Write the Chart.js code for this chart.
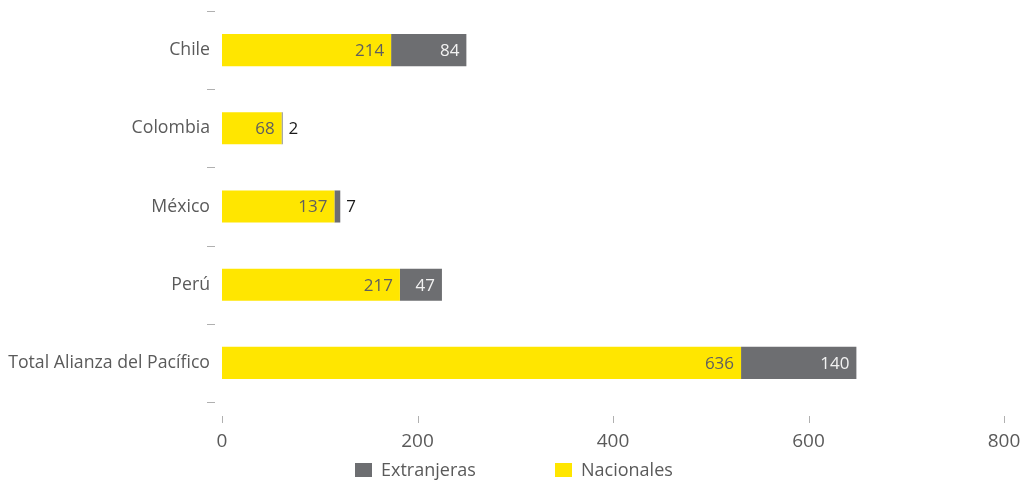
<!DOCTYPE html>
<html><head><meta charset="utf-8">
<script src="https://cdn.jsdelivr.net/npm/chart.js@4"></script>
<style>html,body{margin:0;padding:0;background:#fff}#wrap{width:1034px;height:484px;position:relative}</style>
</head><body><div id="wrap"><canvas id="c" width="1034" height="484"></canvas></div>
<script>
const categories = ['Chile', 'Colombia', 'México', 'Perú', 'Total Alianza del Pacífico'];
// bar lengths as drawn in the reference (against its 0–800 axis)
const nacionalesBars = [173, 61, 115, 182, 531];
const extranjerasBars = [77, 1, 6, 43, 118];
// values printed on the bars
const nacionalesLabels = [214, 68, 137, 217, 636];
const extranjerasLabels = [84, 2, 7, 47, 140];
const xTickValues = [0, 200, 400, 600, 800];
const seriesNames = ['Nacionales', 'Extranjeras'];

const YELLOW = '#FFE600';
const GREY = '#6D6E71';
const FONT = "'Open Sans', sans-serif";
const TEXT = '#5a5a5a';
const TICKMARK = '#b0b0b0';

const tickMarks = {
  id: 'tickMarks',
  afterDraw(chart) {
    const ctx = chart.ctx, ca = chart.chartArea;
    const ys = chart.scales.y, xs = chart.scales.x;
    ctx.save();
    ctx.strokeStyle = TICKMARK;
    ctx.lineWidth = 1;
    const n = ys.ticks.length;
    const step = n > 1 ? ys.getPixelForTick(1) - ys.getPixelForTick(0) : 0;
    for (let i = 0; i <= n; i++) {
      const y = Math.round(ys.getPixelForTick(0) - step / 2 + i * step) + 0.5;
      ctx.beginPath(); ctx.moveTo(ca.left - 15, y); ctx.lineTo(ca.left - 7, y); ctx.stroke();
    }
    xs.ticks.forEach(t => {
      const x = Math.round(xs.getPixelForValue(t.value)) + 0.5;
      ctx.beginPath(); ctx.moveTo(x, ca.bottom + 14); ctx.lineTo(x, ca.bottom + 21); ctx.stroke();
    });
    ctx.restore();
  }
};

const barLabels = {
  id: 'barLabels',
  afterDatasetsDraw(chart) {
    const ctx = chart.ctx;
    ctx.save();
    ctx.font = '17px ' + FONT;
    ctx.textBaseline = 'middle';
    chart.data.datasets.forEach((ds, di) => {
      const meta = chart.getDatasetMeta(di);
      meta.data.forEach((el, i) => {
        const txt = String(ds.printed[i]);
        const w = ctx.measureText(txt).width;
        const segW = el.x - el.base;
        if (segW > w + 14) {
          ctx.textAlign = 'right';
          ctx.fillStyle = ds.labelColor;
          ctx.fillText(txt, el.x - 7, el.y + 1);
        } else {
          ctx.textAlign = 'left';
          ctx.fillStyle = '#1a1a1a';
          ctx.fillText(txt, el.x + 6, el.y + 1);
        }
      });
    });
    ctx.restore();
  }
};

const customLegend = {
  id: 'customLegend',
  afterDraw(chart) {
    const ctx = chart.ctx;
    ctx.save();
    ctx.font = '18px ' + FONT;
    ctx.textBaseline = 'middle';
    ctx.textAlign = 'left';
    const items = chart.data.datasets.slice().reverse();
    const boxW = 17, boxH = 14, gapText = 9, itemStep = 200;
    let x = 355;
    const cy = 470;
    items.forEach((d, i) => {
      ctx.fillStyle = d.backgroundColor;
      ctx.fillRect(Math.round(x), cy - boxH / 2, boxW, boxH);
      ctx.fillStyle = TEXT;
      ctx.fillText(d.label, x + boxW + gapText, cy + 1);
      x += itemStep;
    });
    ctx.restore();
  }
};

new Chart(document.getElementById('c'), {
  type: 'bar',
  data: {
    labels: categories,
    datasets: [
      { label: seriesNames[0], data: nacionalesBars, printed: nacionalesLabels, backgroundColor: YELLOW, labelColor: '#5f5f5f',
        barPercentage: 0.41, categoryPercentage: 1.0 },
      { label: seriesNames[1], data: extranjerasBars, printed: extranjerasLabels, backgroundColor: GREY, labelColor: '#f2f2f2',
        barPercentage: 0.41, categoryPercentage: 1.0 }
    ]
  },
  options: {
    indexAxis: 'y',
    responsive: false,
    devicePixelRatio: 1,
    animation: false,
    layout: { padding: { top: 11, right: 30, bottom: 0, left: 0 } },
    plugins: { legend: { display: false }, tooltip: { enabled: false } },
    scales: {
      x: {
        stacked: true, min: 0, max: 800,
        afterBuildTicks(s) { s.ticks = xTickValues.map(v => ({ value: v })); },
        afterFit(s) { s.height = 82; s.paddingLeft = 0; s.paddingRight = 0; },
        grid: { display: false, drawTicks: false },
        border: { display: false },
        ticks: { font: { family: FONT, size: 19 }, color: TEXT, padding: 28 }
      },
      y: {
        stacked: true,
        afterFit(s) { s.width = 222; s.paddingTop = 0; s.paddingBottom = 0; },
        grid: { display: false, drawTicks: false },
        border: { display: false },
        ticks: { font: { family: FONT, size: 17.7 }, color: TEXT, padding: 12 }
      }
    }
  },
  plugins: [tickMarks, barLabels, customLegend]
});
</script>
</body></html>
